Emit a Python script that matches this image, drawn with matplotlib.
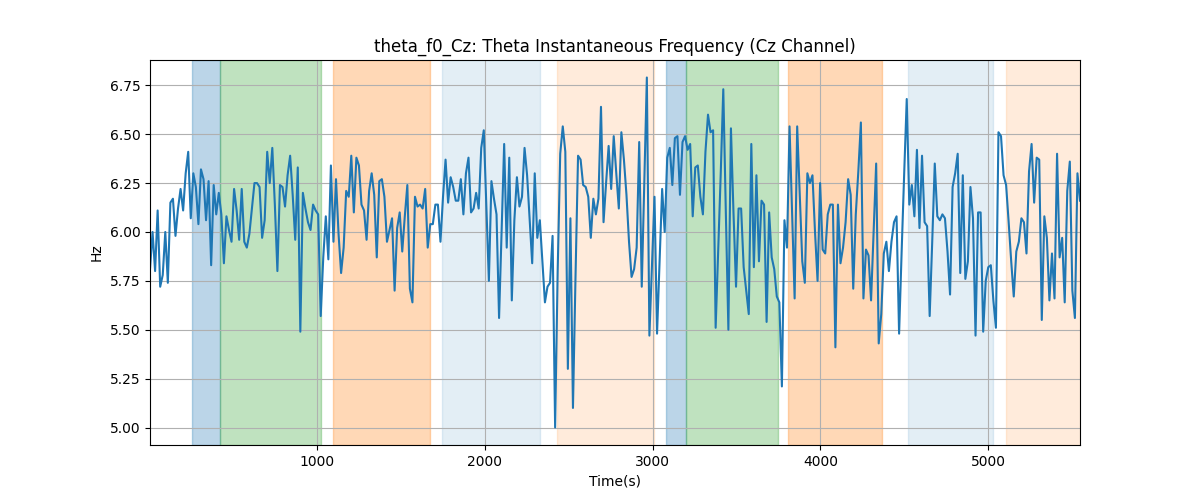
import numpy as np
import matplotlib
matplotlib.use("Agg")
import matplotlib.pyplot as plt

# theta instantaneous frequency, Cz channel
freq_hz = [
    # 0 - 700 s
    5.81, 6.00, 5.80, 6.11, 5.72, 5.78, 6.00, 5.74, 6.15, 6.17, 5.98, 6.12, 6.22, 6.11, 6.30,
    6.41, 6.07, 6.30, 6.23, 6.04, 6.32, 6.27, 6.06, 6.26, 5.83, 6.24, 6.09, 6.20, 6.09, 5.84,
    6.08, 6.01, 5.95, 6.22, 6.11, 5.96, 6.22, 5.95, 5.92, 5.99, 6.12, 6.25, 6.25, 6.23, 5.97,
    # 700 - 1400 s
    6.06, 6.41, 6.25, 6.43, 6.14, 5.80, 6.24, 6.23, 6.13, 6.29, 6.39, 6.19, 5.96, 6.33, 5.49,
    6.20, 6.12, 6.05, 6.01, 6.14, 6.11, 6.09, 5.57, 5.87, 6.08, 5.86, 6.34, 5.95, 6.27, 5.99,
    5.79, 5.92, 6.21, 6.18, 6.39, 6.10, 6.38, 6.34, 6.14, 6.11, 5.96, 6.21, 6.30, 6.19, 5.87,
    6.26,
    # 1400 - 2100 s
    6.27, 6.18, 5.95, 6.01, 6.07, 5.70, 6.02, 6.10, 5.90, 6.08, 6.24, 5.71, 5.64, 6.18, 6.13,
    6.14, 6.12, 6.22, 5.92, 6.04, 6.04, 6.14, 6.14, 5.95, 6.18, 6.37, 6.15, 6.28, 6.23, 6.16,
    6.16, 6.27, 6.09, 6.30, 6.38, 6.10, 6.12, 6.20, 6.12, 6.43, 6.52, 6.14, 5.75, 6.26, 6.17,
    6.09,
    # 2100 - 2800 s
    5.56, 6.00, 6.45, 5.92, 6.38, 5.65, 6.06, 6.28, 6.13, 6.18, 6.43, 6.29, 6.06, 5.84, 6.30,
    5.97, 6.06, 5.85, 5.64, 5.72, 5.74, 5.98, 5.00, 5.80, 6.40, 6.54, 6.41, 5.30, 6.07, 5.10,
    5.77, 6.39, 6.37, 6.24, 6.23, 6.18, 5.97, 6.17, 6.09, 6.17, 6.64, 6.05, 6.25, 6.44, 6.22,
    # 2800 - 3500 s
    6.49, 6.30, 6.12, 6.51, 6.37, 6.19, 5.95, 5.77, 5.81, 5.92, 6.46, 5.72, 6.25, 6.79, 5.47,
    5.83, 6.18, 5.48, 5.85, 6.22, 6.00, 6.38, 6.43, 6.24, 6.48, 6.49, 6.19, 6.46, 6.49, 6.42,
    6.45, 6.08, 6.33, 6.34, 6.18, 6.09, 6.41, 6.60, 6.51, 6.52, 5.51, 5.90, 6.30, 6.73, 6.10,
    5.50,
    # 3500 - 4200 s
    6.53, 6.10, 5.72, 6.12, 6.12, 5.82, 5.70, 5.58, 6.45, 5.82, 6.29, 5.85, 6.16, 6.14, 5.54,
    6.10, 5.87, 5.81, 5.67, 5.64, 5.21, 6.06, 5.92, 6.54, 6.10, 5.66, 6.54, 6.20, 5.85, 5.74,
    6.30, 6.25, 6.29, 6.00, 5.75, 6.25, 5.91, 5.89, 6.09, 6.14, 6.14, 5.41, 6.14, 5.84, 5.92,
    6.05, 6.27,
    # 4200 - 4900 s
    6.19, 5.71, 6.09, 6.31, 6.56, 5.66, 5.91, 5.88, 5.65, 6.00, 6.35, 5.43, 5.58, 5.89, 5.95,
    5.80, 5.95, 6.05, 6.08, 5.48, 5.90, 6.30, 6.68, 6.14, 6.24, 6.08, 6.42, 6.02, 6.39, 6.05,
    6.03, 5.57, 5.95, 6.35, 6.08, 6.06, 6.09, 6.07, 5.90, 5.68, 6.23, 6.30, 6.40, 5.79, 6.29,
    5.76,
    # 4900 - end
    5.85, 6.23, 6.07, 5.47, 6.10, 6.10, 5.49, 5.75, 5.82, 5.83, 5.65, 5.51, 6.51, 6.49, 6.29,
    6.24, 6.05, 5.85, 5.67, 5.90, 5.95, 6.07, 6.05, 5.89, 6.31, 6.45, 6.15, 6.38, 6.37, 5.55,
    6.08, 5.97, 5.65, 5.89, 5.66, 6.40, 5.87, 5.97, 5.64, 6.21, 6.36, 5.70, 5.56, 6.30, 6.16,
]
t_first = 4.0
t_last = 5548.0

# task blocks: (start, end, colour, alpha)
block_start = [254, 423, 1095, 1745, 2430, 3082, 3201, 3809, 4523, 5107]
block_end = [423, 1025, 1671, 2327, 3007, 3201, 3746, 4368, 5031, 5600]
block_color = ["tab:blue", "tab:green", "tab:orange", "tab:blue", "tab:orange",
               "tab:blue", "tab:green", "tab:orange", "tab:blue", "tab:orange"]
block_alpha = [0.3, 0.3, 0.3, 0.12, 0.15, 0.3, 0.3, 0.3, 0.12, 0.15]


def main():
    times = np.linspace(t_first, t_last, len(freq_hz))

    fig, ax = plt.subplots(figsize=(12, 5))
    for s, e, c, a in zip(block_start, block_end, block_color, block_alpha):
        ax.axvspan(s, e, color=c, alpha=a)

    ax.plot(times, freq_hz, color="tab:blue")
    ax.set_xlim(t_first, t_last)
    ax.grid(True)
    ax.set(xlabel="Time(s)", ylabel="Hz",
           title="theta_f0_Cz: Theta Instantaneous Frequency (Cz Channel)")

    plt.savefig("out.png")


if __name__ == "__main__":
    main()
